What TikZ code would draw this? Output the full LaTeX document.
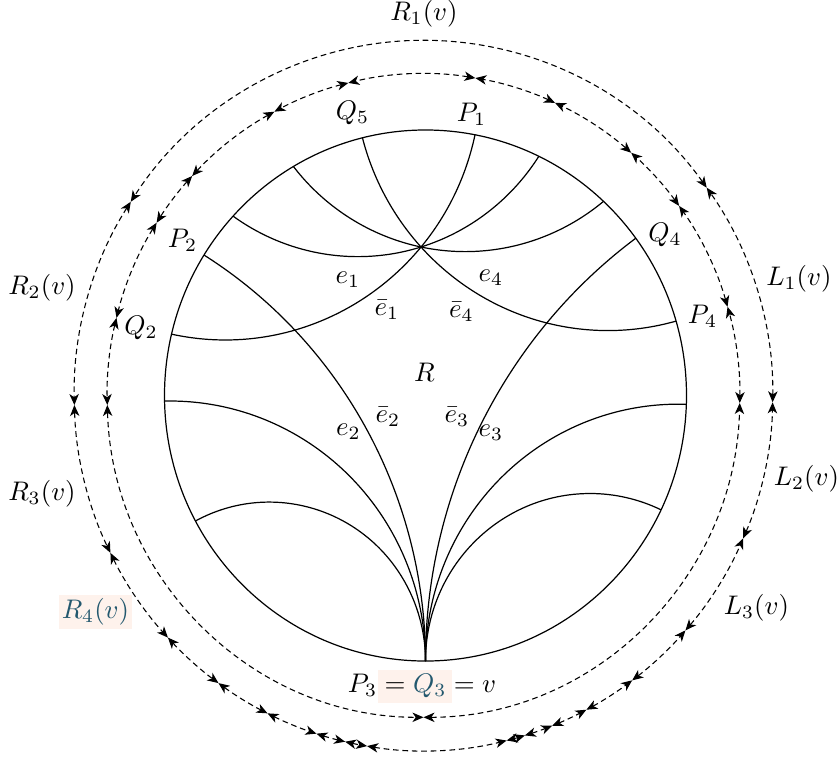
\documentclass[tikz,border=0pt]{standalone}
\usetikzlibrary{arrows.meta}
\definecolor{tintbg}{RGB}{254,242,236}
\definecolor{tealtxt}{RGB}{35,88,110}
\tikzset{
  disc/.style={line width=0.45pt},
  geo/.style={line width=0.45pt},
  dseg/.style={line width=0.4pt, dash pattern=on 2.1pt off 1.4pt,
    {Stealth[length=4.1pt,width=3.5pt,inset=1.2pt]}-{Stealth[length=4.1pt,width=3.5pt,inset=1.2pt]}},
  lab/.style={inner sep=0pt}
}
% circle arc through three points (first -> second -> third)
\newcommand\tparc[6]{%
  \pgfmathsetmacro\tpxa{#1}\pgfmathsetmacro\tpya{#2}%
  \pgfmathsetmacro\tpxb{#3}\pgfmathsetmacro\tpyb{#4}%
  \pgfmathsetmacro\tpxc{#5}\pgfmathsetmacro\tpyc{#6}%
  \pgfmathsetmacro\tpd{2*((\tpxa)*((\tpyb)-(\tpyc))+(\tpxb)*((\tpyc)-(\tpya))+(\tpxc)*((\tpya)-(\tpyb)))}%
  \pgfmathsetmacro\tpsa{(\tpxa)*(\tpxa)+(\tpya)*(\tpya)}%
  \pgfmathsetmacro\tpsb{(\tpxb)*(\tpxb)+(\tpyb)*(\tpyb)}%
  \pgfmathsetmacro\tpsc{(\tpxc)*(\tpxc)+(\tpyc)*(\tpyc)}%
  \pgfmathsetmacro\tpux{((\tpsa)*((\tpyb)-(\tpyc))+(\tpsb)*((\tpyc)-(\tpya))+(\tpsc)*((\tpya)-(\tpyb)))/(\tpd)}%
  \pgfmathsetmacro\tpuy{((\tpsa)*((\tpxc)-(\tpxb))+(\tpsb)*((\tpxa)-(\tpxc))+(\tpsc)*((\tpxb)-(\tpxa)))/(\tpd)}%
  \pgfmathsetmacro\tpr{veclen((\tpxa)-(\tpux),(\tpya)-(\tpuy))}%
  \pgfmathsetmacro\tpa{atan2((\tpya)-(\tpuy),(\tpxa)-(\tpux))}%
  \pgfmathsetmacro\tpb{atan2((\tpyb)-(\tpuy),(\tpxb)-(\tpux))}%
  \pgfmathsetmacro\tpc{atan2((\tpyc)-(\tpuy),(\tpxc)-(\tpux))}%
  \pgfmathsetmacro\tpdab{Mod((\tpb)-(\tpa),360)}%
  \pgfmathsetmacro\tpdac{Mod((\tpc)-(\tpa),360)}%
  \pgfmathsetmacro\tpe{(\tpa)+(\tpdac)-360*((\tpdab)>(\tpdac))}%
  \draw[geo] (\tpxa,\tpya) arc[start angle=\tpa,end angle=\tpe,radius=\tpr];%
}
% hyperbolic geodesic between boundary angles #1 < #2
\newcommand\geodarc[2]{%
  \pgfmathsetmacro\gm{(#1+#2)/2}%
  \pgfmathsetmacro\gh{(#2-#1)/2}%
  \pgfmathsetmacro\gr{tan(\gh)}%
  \pgfmathsetmacro\gs{\gm+270-\gh}%
  \pgfmathsetmacro\gend{\gm+90+\gh}%
  \draw[geo] ({cos(#1)},{sin(#1)}) arc[start angle=\gs,end angle=\gend,radius=\gr];%
}
\begin{document}
\begin{tikzpicture}[x=97.09pt,y=98.77pt]
\useasboundingbox (-1.6303,-1.3691) rectangle (1.5843,1.4896);
% tint patch
\fill[tintbg] (-0.182,-1.034) rectangle (0.1015,-1.158);
% disc
\draw[disc] (0,0) circle[radius=1];
\coordinate (X) at (-0.01724,0.5593);
% arcs through X
\tparc{cos(137.5)}{sin(137.5)}{-0.01724}{0.5593}{cos(64.27)}{sin(64.27)}
\tparc{cos(120.4)}{sin(120.4)}{-0.01724}{0.5593}{cos(46.99)}{sin(46.99)}
\tparc{cos(103.98)}{sin(103.98)}{-0.01724}{0.5593}{cos(16.27)}{sin(16.27)}
\tparc{cos(166.64)}{sin(166.64)}{-0.01724}{0.5593}{cos(79.06)}{sin(79.06)}
% fan at v
\geodarc{148.06}{270}
\geodarc{181.2}{270}
\geodarc{208.2}{270}
\geodarc{270}{396.33}
\geodarc{270}{358.1}
\geodarc{270}{334.5}
% dashed boundary paths
\begin{scope}[shift={(-0.0077,0)}]
\foreach \a/\b in {16.0/36.09,36.09/48.96,48.96/65.43,65.43/80.56,80.56/103.75,
  103.75/118.12,118.12/137.0,137.0/147.53,147.53/166.04,166.04/181.69,
  181.69/270,270/358.66,358.66/376.0}
  \draw[dseg] ({1.212*cos(\a)},{1.212*sin(\a)}) arc[start angle=\a,end angle=\b,radius=1.212];
\foreach \a/\b in {35.8/146.95,146.95/181.54,181.54/206.29,206.29/222.96,
  222.96/234.05,234.05/243.47,243.47/252.15,252.15/257.03,257.03/260.7,
  260.7/283.78,283.78/286.88,286.88/291.63,291.63/297.81,297.81/306.7,
  306.7/318.6,318.6/336.3,336.3/358.9,358.9/395.8}
  \draw[dseg] ({1.338*cos(\a)},{1.338*sin(\a)}) arc[start angle=\a,end angle=\b,radius=1.338];
\end{scope}
% labels
\node[lab] (lR1) at (-0.0057,1.4369) {$R_1(v)$};
\node[lab] (lQ5) at (-0.2797,1.0640) {$Q_5$};
\node[lab] (lP1) at (0.1762,1.0603) {$P_1$};
\node[lab] (lP2) at (-0.9310,0.5857) {$P_2$};
\node[lab] (lQ4) at (0.9176,0.6064) {$Q_4$};
\node[lab] (lR2) at (-1.4693,0.4049) {$R_2(v)$};
\node[lab] (lL1) at (1.4310,0.4407) {$L_1(v)$};
\node[lab] (le1) at (-0.2969,0.4350) {$e_1$};
\node[lab] (le4) at (0.2510,0.4426) {$e_4$};
\node[lab] (lQ2) at (-1.0900,0.2542) {$Q_2$};
\node[lab] (lP4) at (1.0613,0.2994) {$P_4$};
\node[lab] (lbe1) at (-0.1475,0.3220) {$\bar{e}_1$};
\node[lab] (lbe4) at (0.1379,0.3164) {$\bar{e}_4$};
\node[lab] (lR) at (-0.0038,0.0866) {$R$};
\node[lab] (lbe2) at (-0.1437,-0.0810) {$\bar{e}_2$};
\node[lab] (lbe3) at (0.1207,-0.0791) {$\bar{e}_3$};
\node[lab] (le2) at (-0.2950,-0.1356) {$e_2$};
\node[lab] (le3) at (0.2510,-0.1394) {$e_3$};
\node[lab] (lR3) at (-1.4693,-0.3710) {$R_3(v)$};
\node[lab] (lL2) at (1.4598,-0.3145) {$L_2(v)$};
\node[lab] (lL3) at (1.2682,-0.7985) {$L_3(v)$};
\node[lab, fill=tintbg, inner sep=1.2pt, text=tealtxt] (lR4) at (-1.2644,-0.8154) {$R_4(v)$};
\node[lab, anchor=base] (lv) at (-0.0134,-1.1168) {$P_3=\textcolor{tealtxt}{Q_3}=v$};
\end{tikzpicture}
\end{document}
